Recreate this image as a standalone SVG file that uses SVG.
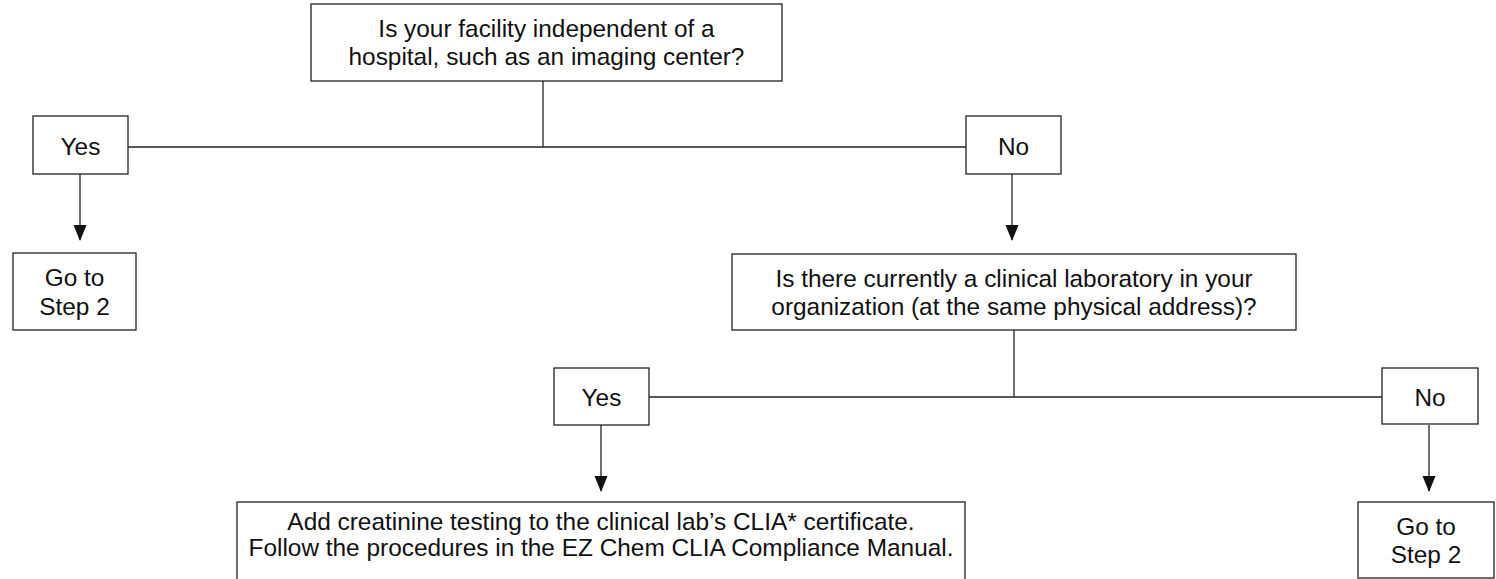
<svg xmlns="http://www.w3.org/2000/svg" width="1496" height="579" viewBox="0 0 1496 579">
<style>
.box{fill:#fff;stroke:#222;stroke-width:1.3}
.ln{fill:none;stroke:#222;stroke-width:1.3}
text{font-family:"Liberation Sans",Arial,sans-serif;font-size:24.4px;fill:#111;text-anchor:middle}
</style>
<defs>
<marker id="ah" markerWidth="16" markerHeight="14" refX="15" refY="6.5" orient="auto" markerUnits="userSpaceOnUse">
<path d="M0,0 L16,6.5 L0,13 Z" fill="#111"/>
</marker>
</defs>
<g id="connectors">
<line class="ln" x1="543" y1="81" x2="543" y2="147"/>
<line class="ln" x1="128" y1="147" x2="966" y2="147"/>
<line class="ln" x1="80" y1="174" x2="80" y2="240" marker-end="url(#ah)"/>
<line class="ln" x1="1012" y1="174" x2="1012" y2="240" marker-end="url(#ah)"/>
<line class="ln" x1="1014" y1="330" x2="1014" y2="397"/>
<line class="ln" x1="649" y1="397" x2="1382" y2="397"/>
<line class="ln" x1="601" y1="425" x2="601" y2="491" marker-end="url(#ah)"/>
<line class="ln" x1="1429" y1="425" x2="1429" y2="491" marker-end="url(#ah)"/>
</g>
<g id="q1"><rect class="box" x="311" y="4" width="471" height="77"/><text x="546.5" y="37">Is your facility independent of a</text><text x="546.5" y="65">hospital, such as an imaging center?</text></g>
<g id="yes1"><rect class="box" x="33" y="116" width="95" height="58"/><text x="80.5" y="155">Yes</text></g>
<g id="step2a"><rect class="box" x="13" y="253" width="123" height="77"/><text x="74.5" y="286">Go to</text><text x="74.5" y="315">Step 2</text></g>
<g id="no1"><rect class="box" x="966" y="116" width="95" height="58"/><text x="1013.5" y="155">No</text></g>
<g id="q2"><rect class="box" x="732" y="254" width="564" height="76"/><text x="1014" y="287">Is there currently a clinical laboratory in your</text><text x="1014" y="315">organization (at the same physical address)?</text></g>
<g id="yes2"><rect class="box" x="554" y="368" width="95" height="57"/><text x="601.5" y="406">Yes</text></g>
<g id="no2"><rect class="box" x="1382" y="368" width="96" height="56"/><text x="1430" y="406">No</text></g>
<g id="add"><rect class="box" x="237" y="502" width="728" height="90"/><text x="601" y="530">Add creatinine testing to the clinical lab’s CLIA* certificate.</text><text x="601" y="556">Follow the procedures in the EZ Chem CLIA Compliance Manual.</text></g>
<g id="step2b"><rect class="box" x="1358" y="502" width="136" height="76"/><text x="1426" y="535">Go to</text><text x="1426" y="563">Step 2</text></g>
</svg>
